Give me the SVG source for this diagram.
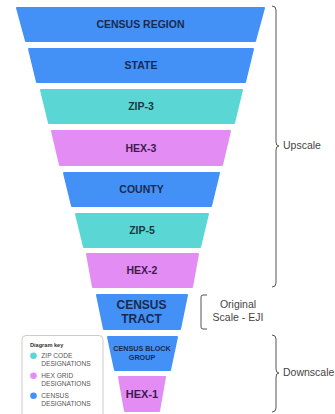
<svg xmlns="http://www.w3.org/2000/svg" width="335" height="414" viewBox="0 0 335 414">
<style>
.t{stroke-linejoin:round;stroke-width:2}
.b{fill:#4391f7;stroke:#4391f7}
.z{fill:#5ad7d5;stroke:#5ad7d5}
.h{fill:#e38df4;stroke:#e38df4}
.lb{font-family:"Liberation Sans",Arial,sans-serif;font-weight:bold;font-size:10.5px;text-anchor:middle}
.lbb{fill:#1b2a4c}
.lbz{fill:#163a3c}
.lbh{fill:#3e1a4c}
.side{font-family:"Liberation Sans",Arial,sans-serif;font-size:10.5px;fill:#444}
.br{fill:none;stroke:#555;stroke-width:1}
.key{font-family:"Liberation Sans",Arial,sans-serif;font-size:6.6px;fill:#555}
</style>
<rect width="335" height="414" fill="#fff"/>
<g id="census-region"><polygon class="t b" points="17,8 264,8 255,41 26,41"/><text class="lb lbb" x="140.5" y="28">CENSUS REGION</text></g>
<g id="state"><polygon class="t b" points="29,49 253,49 245,82 37,82"/><text class="lb lbb" x="141" y="69">STATE</text></g>
<g id="zip-3"><polygon class="t z" points="41,90 242,90 234,123 49,123"/><text class="lb lbz" x="141" y="110">ZIP-3</text></g>
<g id="hex-3"><polygon class="t h" points="52,131 230,131 222,165 60,165"/><text class="lb lbh" x="141" y="152">HEX-3</text></g>
<g id="county"><polygon class="t b" points="64,173 219,173 211,206 72,206"/><text class="lb lbb" x="141.5" y="193">COUNTY</text></g>
<g id="zip-5"><polygon class="t z" points="76,214 208,214 200,247 84,247"/><text class="lb lbz" x="142" y="234">ZIP-5</text></g>
<g id="hex-2"><polygon class="t h" points="87,254 198,254 192,287 93,287"/><text class="lb lbh" x="142" y="274">HEX-2</text></g>
<g id="census-tract"><polygon class="t b" points="97,295 187,295 180,329 104,329"/><text class="lb lbb" x="141.5" y="309" style="font-size:12px">CENSUS</text><text class="lb lbb" x="141.5" y="322.5" style="font-size:12px">TRACT</text></g>
<g id="census-block-group"><polygon class="t b" points="108,337 177,337 170,370 115,370"/><text class="lb lbb" x="142" y="351" style="font-size:7.2px">CENSUS BLOCK</text><text class="lb lbb" x="142" y="359.5" style="font-size:7.2px">GROUP</text></g>
<g id="hex-1"><polygon class="t h" points="119,377 165,377 159,411 125,411"/><text class="lb lbh" x="142" y="398" style="font-size:11px">HEX-1</text></g>
<g id="connectors">
<path class="br" d="M272,6 Q276,6 276,10 L276,142 Q276,146 279,146 Q276,146 276,150 L276,283 Q276,287 272,287"/>
<path class="br" d="M207,295 L203,295 Q201,295 201,297 L201,327 Q201,329 203,329 L207,329"/>
<path class="br" d="M272,335 Q276,335 276,339 L276,369 Q276,373 279,373 Q276,373 276,377 L276,408 Q276,412 272,412"/>
</g>
<g id="labels">
<text class="side" x="283" y="149">Upscale</text>
<text class="side" x="238" y="308" text-anchor="middle">Original</text>
<text class="side" x="238" y="321" text-anchor="middle">Scale - EJI</text>
<text class="side" x="283" y="376">Downscale</text>
</g>
<g id="legend">
<rect x="22" y="335.5" width="81" height="85" rx="4" fill="#fff" stroke="#ccc" stroke-width="1"/>
<text class="key" x="30" y="346.5" style="font-weight:bold;font-size:5.6px;fill:#333">Diagram key</text>
<circle cx="33.5" cy="355.7" r="3.3" fill="#5ad7d5"/>
<circle cx="33.5" cy="375.7" r="3.3" fill="#e38df4"/>
<circle cx="33.5" cy="395.7" r="3.3" fill="#4391f7"/>
<text class="key" x="41.3" y="357.5">ZIP CODE</text>
<text class="key" x="41.3" y="366">DESIGNATIONS</text>
<text class="key" x="41.3" y="377.5">HEX GRID</text>
<text class="key" x="41.3" y="386">DESIGNATIONS</text>
<text class="key" x="41.3" y="397.5">CENSUS</text>
<text class="key" x="41.3" y="406">DESIGNATIONS</text>
</g>
</svg>
